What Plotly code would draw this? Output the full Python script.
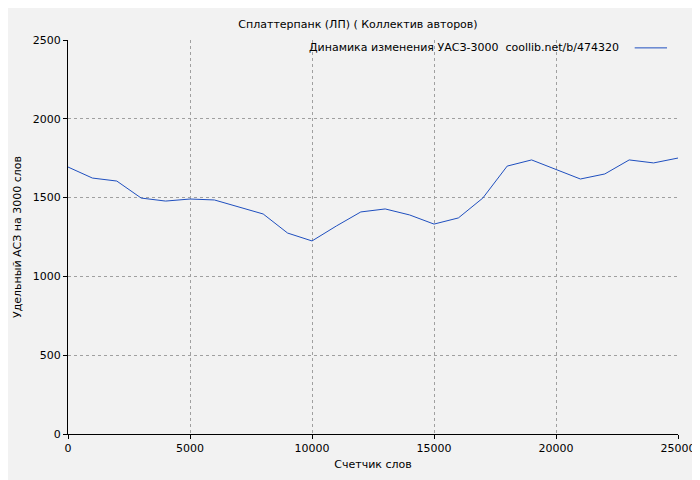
import plotly.graph_objects as go

words = list(range(0, 26000, 1000))
values = [1694,1624,1605,1497,1478,1491,1485,1440,1396,1275,1225,1320,1409,1428,1390,1332,1371,1497,1700,1739,1681,1618,1650,1739,1720,1751]
legend_text = "Динамика изменения УАСЗ-3000  coollib.net/b/474320"

fig = go.Figure(go.Scatter(x=words, y=values, mode="lines",
    line=dict(color="#1f4fbf", width=1), showlegend=False))

ax = dict(showgrid=True, gridcolor="#a0a0a0", griddash="dot", gridwidth=1,
          showline=True, linecolor="black", linewidth=1, ticks="outside",
          ticklen=4, tickcolor="black", zeroline=False, mirror=False,
          tickformat="d", automargin=False)
fig.update_layout(
    width=700, height=480, paper_bgcolor="#f2f2f2", plot_bgcolor="#f2f2f2",
    font=dict(family="DejaVu Sans", size=11, color="black"),
    margin=dict(l=60, r=30, t=32, b=54),
    title=dict(text="Сплаттерпанк (ЛП) ( Коллектив авторов)", x=0.5, y=0.975, xanchor="center", font=dict(size=11)),
    xaxis=dict(ax, range=[0, 25000], dtick=5000, title=dict(text="Счетчик слов", font=dict(size=11), standoff=6)),
    yaxis=dict(ax, range=[0, 2500], dtick=500, title=dict(text="Удельный АСЗ на 3000 слов", font=dict(size=11), standoff=8)),
)
fig.add_annotation(text=legend_text, xref="paper", yref="paper", x=0.906, y=0.98,
                   xanchor="right", yanchor="middle", showarrow=False, font=dict(size=11))
fig.add_shape(type="line", xref="paper", yref="paper", x0=0.929, x1=0.982, y0=0.98, y1=0.98,
              line=dict(color="#1f4fbf", width=1))
fig.write_html("out.html")
